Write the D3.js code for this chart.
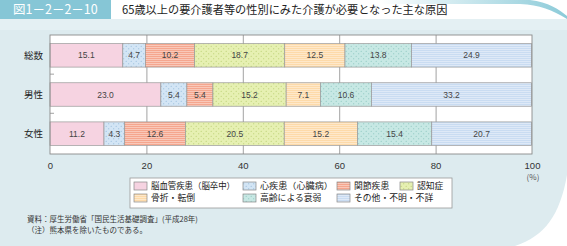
<!DOCTYPE html>
<html>
<head>
<meta charset="utf-8">
<script src="https://cdn.jsdelivr.net/npm/d3@7"></script>
<style>
  body { margin: 0; background: #fff; }
  svg { display: block; font-family: "Noto Sans CJK JP", sans-serif; }
</style>
</head>
<body>
<svg id="chart" width="567" height="246"></svg>
<script>
// categories and series (percent)
const categories = ["総数", "男性", "女性"];
const causes = ["脳血管疾患（脳卒中）", "心疾患（心臓病）", "関節疾患", "認知症", "骨折・転倒", "高齢による衰弱", "その他・不明・不詳"];
const totalValues = [15.1, 4.7, 10.2, 18.7, 12.5, 13.8, 24.9];
const maleValues = [23.0, 5.4, 5.4, 15.2, 7.1, 10.6, 33.2];
const femaleValues = [11.2, 4.3, 12.6, 20.5, 15.2, 15.4, 20.7];
const xTicks = [0, 20, 40, 60, 80, 100];

const rows = [totalValues, maleValues, femaleValues];

// fill colours + pattern type per cause
const fills = ["#f6d3e1", "#d3e5f5", "#f5a68e", "#e6f0b2", "#fddaa9", "#c7e8e4", "#c9dcf2"];
const kinds = ["plain", "dots", "stripes", "dots", "stripes", "dots", "stripes"];
const dotColor = ["", "#8fb8d8", "", "#b5cc6a", "", "#86c3bb", ""];

const svg = d3.select("#chart");

// panel background
svg.append("rect").attr("width", 567).attr("height", 246).attr("fill", "#ddebef");
// rounded bottom-right corner (white outside)
svg.append("path")
  .attr("d", "M567,175 C560,215 545,236 515,246 L567,246 Z")
  .attr("fill", "#fff");

// header
svg.append("rect").attr("x", 0).attr("y", 0).attr("width", 567).attr("height", 19).attr("fill", "#fff");
svg.append("rect").attr("x", 0).attr("y", 19).attr("width", 567).attr("height", 11).attr("fill", "#e4f0f3");
const grad = svg.append("defs").append("linearGradient").attr("id", "hdr")
  .attr("x1", "0").attr("x2", "1");
grad.append("stop").attr("offset", "0").attr("stop-color", "#fff");
grad.append("stop").attr("offset", "1").attr("stop-color", "#8ccbd9");
svg.append("path")
  .attr("d", "M380,0 L530,0 C548,2 560,10 567,16 L567,19 C552,10 540,5 520,4 L380,4 Z")
  .attr("fill", "url(#hdr)");
svg.append("rect").attr("x", 0).attr("y", 0).attr("width", 111).attr("height", 19).attr("fill", "#86c6d6");
svg.append("text").attr("x", 13).attr("y", 14)
  .attr("font-size", 12.5).attr("fill", "#fff").text("図1－2－2－10");
svg.append("text").attr("x", 122).attr("y", 14)
  .attr("font-size", 11.2).attr("fill", "#222").text("65歳以上の要介護者等の性別にみた介護が必要となった主な原因");

// patterns
const defs = svg.append("defs");
fills.forEach((c, i) => {
  const p = defs.append("pattern").attr("id", "pat" + i)
    .attr("patternUnits", "userSpaceOnUse");
  if (kinds[i] === "dots") {
    p.attr("width", 5).attr("height", 5);
    p.append("rect").attr("width", 5).attr("height", 5).attr("fill", c);
    p.append("circle").attr("cx", 1.2).attr("cy", 1.2).attr("r", 0.55).attr("fill", dotColor[i]);
    p.append("circle").attr("cx", 3.7).attr("cy", 3.7).attr("r", 0.55).attr("fill", dotColor[i]);
  } else if (kinds[i] === "stripes") {
    p.attr("width", 4).attr("height", 2);
    p.append("rect").attr("width", 4).attr("height", 2).attr("fill", c);
    p.append("rect").attr("y", 1.3).attr("width", 4).attr("height", 0.7).attr("fill", "#fff").attr("opacity", 0.55);
  } else {
    p.attr("width", 4).attr("height", 4);
    p.append("rect").attr("width", 4).attr("height", 4).attr("fill", c);
  }
});

// scales
const x = d3.scaleLinear().domain([0, 100]).range([50, 532]);
const y = d3.scaleBand().domain(categories).range([35, 154]).paddingInner(0.4).paddingOuter(0.22);

// plot area
svg.append("rect").attr("x", x(0)).attr("y", 35).attr("width", x(100) - x(0)).attr("height", 119)
  .attr("fill", "#fff");

// gridlines
svg.append("g")
  .attr("transform", "translate(0,154)")
  .call(d3.axisBottom(x).tickValues(xTicks.slice(1, -1)).tickSize(-119).tickFormat(""))
  .call(g => g.select(".domain").remove())
  .call(g => g.selectAll("line").attr("stroke", "#8a8a8a").attr("stroke-width", 0.8));

// bars
const stacks = rows.map((vals, r) => {
  let acc = 0;
  return vals.map((v, i) => {
    const s = { cat: categories[r], i, v, x0: acc, x1: acc + v };
    acc += v;
    return s;
  });
}).flat();

svg.append("g").selectAll("rect").data(stacks).join("rect")
  .attr("x", d => x(d.x0))
  .attr("y", d => y(d.cat))
  .attr("width", d => x(d.x1) - x(d.x0))
  .attr("height", y.bandwidth())
  .attr("fill", d => "url(#pat" + d.i + ")")
  .attr("stroke", "#999").attr("stroke-width", 0.7);

svg.append("g").selectAll("text").data(stacks).join("text")
  .attr("x", d => (x(d.x0) + x(d.x1)) / 2)
  .attr("y", d => y(d.cat) + y.bandwidth() / 2 + 3)
  .attr("text-anchor", "middle")
  .attr("font-size", 8.5).attr("fill", "#444")
  .attr("font-family", "Liberation Sans, sans-serif")
  .text(d => d.v.toFixed(1));

// plot border
svg.append("rect").attr("x", x(0)).attr("y", 35).attr("width", x(100) - x(0)).attr("height", 119)
  .attr("fill", "none").attr("stroke", "#8a8a8a").attr("stroke-width", 0.9);

// small ticks between categories
const step = y.step();
svg.append("g").selectAll("line").data([1, 2]).join("line")
  .attr("x1", x(0)).attr("x2", x(0) + 4)
  .attr("y1", d => 35 + step * d).attr("y2", d => 35 + step * d)
  .attr("stroke", "#8a8a8a").attr("stroke-width", 0.8);

// category labels
svg.append("g").selectAll("text").data(categories).join("text")
  .attr("x", 43).attr("y", d => y(d) + y.bandwidth() / 2 + 3.5)
  .attr("text-anchor", "end").attr("font-size", 9.5).attr("fill", "#222")
  .text(d => d);

// x axis labels
svg.append("g")
  .attr("transform", "translate(0,159)")
  .call(d3.axisBottom(x).tickValues(xTicks).tickSize(0))
  .call(g => g.select(".domain").remove())
  .call(g => g.selectAll("text").attr("font-size", 9.5).attr("fill", "#333")
    .attr("font-family", "Liberation Sans, sans-serif"));
svg.append("text").attr("x", 533).attr("y", 180).attr("text-anchor", "middle")
  .attr("font-size", 8).attr("fill", "#555").text("(%)");

// legend
const lg = svg.append("g");
lg.append("rect").attr("x", 130).attr("y", 178).attr("width", 322).attr("height", 30)
  .attr("fill", "#fff").attr("stroke", "#999").attr("stroke-width", 0.8);
const legendPos = [[134, 186], [243, 186], [337, 186], [400, 186], [134, 198], [243, 198], [337, 198]];
const legendWidth = [84, 73, 0, 0, 0, 0, 0];
causes.forEach((c, i) => {
  const [lx, ly] = legendPos[i];
  lg.append("rect").attr("x", lx).attr("y", ly - 4).attr("width", 13).attr("height", 8)
    .attr("fill", "url(#pat" + i + ")").attr("stroke", "#888").attr("stroke-width", 0.7);
  const t = lg.append("text").attr("x", lx + 17).attr("y", ly + 3.2)
    .attr("font-size", 8.8).attr("fill", "#222").text(c);
  if (legendWidth[i]) t.attr("textLength", legendWidth[i]).attr("lengthAdjust", "spacingAndGlyphs");
});

// notes
svg.append("text").attr("x", 27).attr("y", 222).attr("font-size", 7.5).attr("fill", "#333")
  .text("資料：厚生労働省「国民生活基礎調査」(平成28年)");
svg.append("text").attr("x", 27).attr("y", 233).attr("font-size", 7.5).attr("fill", "#333")
  .text("（注）熊本県を除いたものである。");
</script>
</body>
</html>
